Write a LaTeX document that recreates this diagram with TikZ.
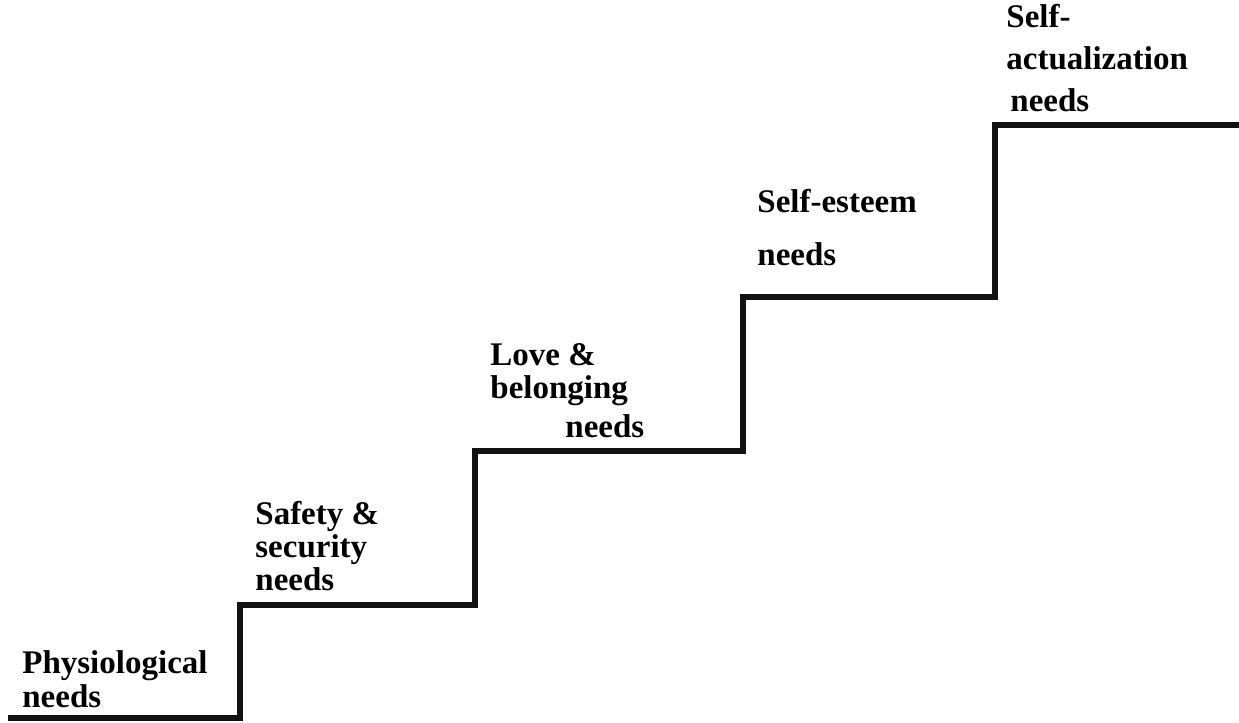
\documentclass[tikz,border=0pt]{standalone}
\usepackage{fontspec}
\setmainfont{Liberation Serif}
\usepackage{tikz}

\begin{document}
\begin{tikzpicture}[x=0.5pt,y=-0.5pt,
    lbl/.style={anchor=base west,inner sep=0pt,font=\bfseries\fontsize{16.5}{18}\selectfont},
    stair/.style={line width=2.6pt,black!93}]
    % 画布大小
    \useasboundingbox (0,0) rectangle (1239,723);

    % 台阶的拐角
    \coordinate (s0) at (8,718);
    \coordinate (s1) at (240,718);
    \coordinate (s2) at (240,605);
    \coordinate (s3) at (475,605);
    \coordinate (s4) at (475,451);
    \coordinate (s5) at (743,451);
    \coordinate (s6) at (743,297);
    \coordinate (s7) at (995,297);
    \coordinate (s8) at (995,125);
    \coordinate (s9) at (1239,125);

    % 画台阶
    \draw[stair] (s0) -- (s1) -- (s2) -- (s3) -- (s4) -- (s5) -- (s6) -- (s7) -- (s8) -- (s9);

    % 各级需要
    \node[lbl] (phys1) at (22,673) {Physiological};
    \node[lbl] (phys2) at (22,707) {needs};

    \node[lbl] (safe1) at (255,524) {Safety \&};
    \node[lbl] (safe2) at (255,557) {security};
    \node[lbl] (safe3) at (255,590) {needs};

    \node[lbl] (love1) at (490,365) {Love \&};
    \node[lbl] (love2) at (490,398) {belonging};
    \node[lbl] (love3) at (565,437) {needs};

    \node[lbl] (est1) at (757,212) {Self-esteem};
    \node[lbl] (est2) at (757,265) {needs};

    \node[lbl] (act1) at (1006,27) {Self-};
    \node[lbl] (act2) at (1006,69) {actualization};
    \node[lbl] (act3) at (1010,111) {needs};
\end{tikzpicture}
\end{document}
